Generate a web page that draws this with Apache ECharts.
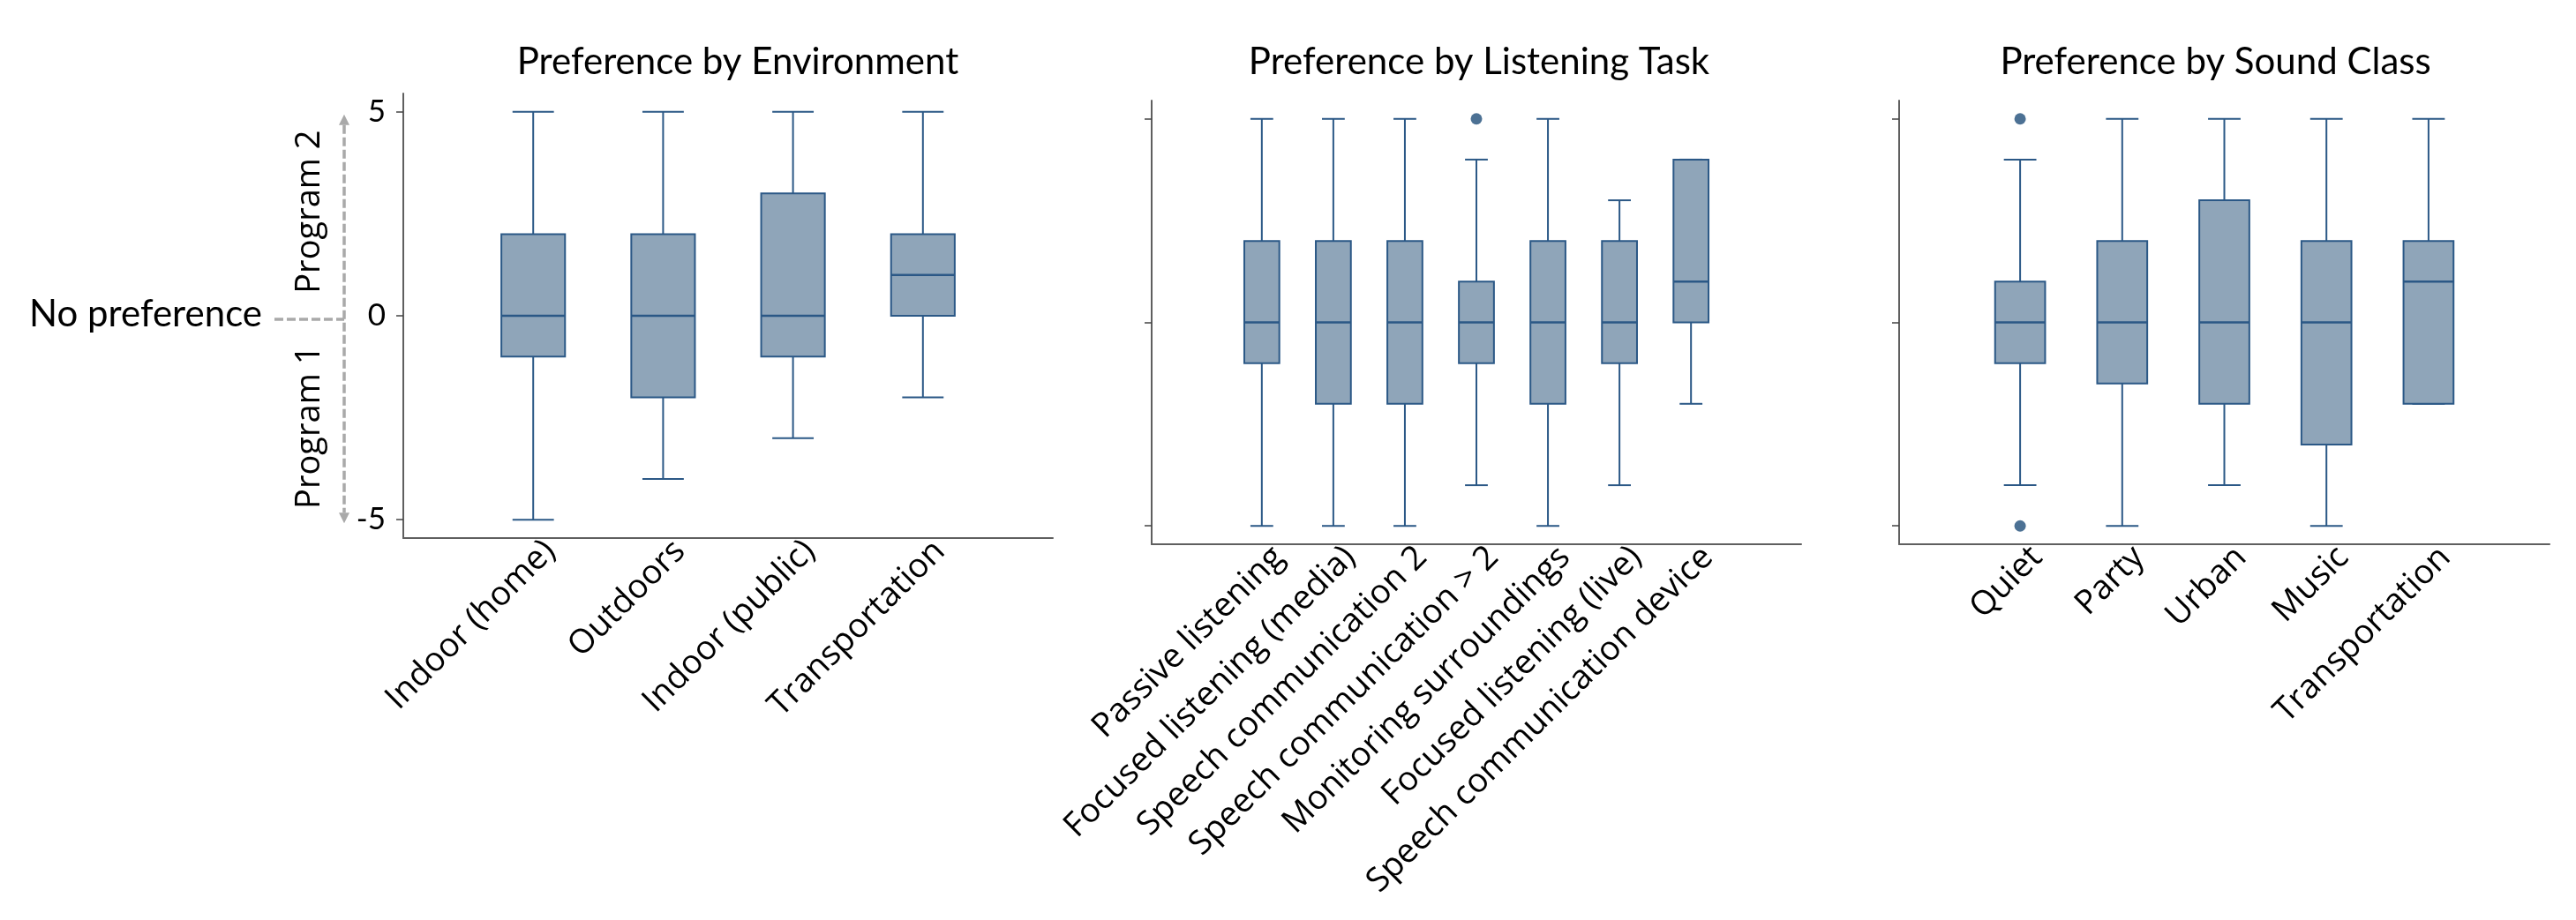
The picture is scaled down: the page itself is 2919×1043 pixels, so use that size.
<!DOCTYPE html>
<html>
<head>
<meta charset="utf-8">
<title>Program preference by environment, listening task and sound class</title>
<script src="https://cdn.jsdelivr.net/npm/echarts@6/dist/echarts.min.js"></script>
<style>
  html, body { margin: 0; padding: 0; background: #ffffff; }
  #chart { width: 2919px; height: 1043px; }
</style>
</head>
<body>
<div id="chart"></div>
<script>
// ---- data: five-number summaries [min, Q1, median, Q3, max] per category ----
const envCategories = ['Indoor (home)', 'Outdoors', 'Indoor (public)', 'Transportation'];
const envStats = [
  [-5, -1, 0, 2, 5],
  [-4, -2, 0, 2, 5],
  [-3, -1, 0, 3, 5],
  [-2, 0, 1, 2, 5]
];
const envOutliers = [];

const taskCategories = [
  'Passive listening',
  'Focused listening (media)',
  'Speech communication 2',
  'Speech communication > 2',
  'Monitoring surroundings',
  'Focused listening (live)',
  'Speech communication device'
];
const taskStats = [
  [-5, -1, 0, 2, 5],
  [-5, -2, 0, 2, 5],
  [-5, -2, 0, 2, 5],
  [-4, -1, 0, 1, 4],
  [-5, -2, 0, 2, 5],
  [-4, -1, 0, 2, 3],
  [-2, 0, 1, 4, 4]
];
// [category index, value]
const taskOutliers = [[3, 5]];

const soundCategories = ['Quiet', 'Party', 'Urban', 'Music', 'Transportation'];
const soundStats = [
  [-4, -1, 0, 1, 4],
  [-5, -1.5, 0, 2, 5],
  [-4, -2, 0, 3, 5],
  [-5, -3, 0, 2, 5],
  [-2, -2, 1, 2, 5]
];
const soundOutliers = [[0, 5], [0, -5]];

const panelTitles = ['Preference by Environment', 'Preference by Listening Task', 'Preference by Sound Class'];
const yTicks = [-5, 0, 5];

// ---- styling ----
const BOX_FILL = '#8fa5b9';
const BOX_STROKE = '#2b5886';
const DOT_COLOR = '#1f4e79';
const AXIS_COLOR = '#5f5f5f';
const GUIDE_COLOR = '#a9a9a9';
const TITLE_FONT = 'Lato';
const LABEL_FONT = 'Open Sans';

const panels = [
  { cats: envCategories, stats: envStats, outliers: envOutliers,
    grid: { left: 457, top: 106, width: 736, height: 504 }, pad: 1.0, showY: true, titleNudge: 6 },
  { cats: taskCategories, stats: taskStats, outliers: taskOutliers,
    grid: { left: 1305, top: 114, width: 736, height: 503 }, pad: 1.54, showY: false, titleNudge: -2 },
  { cats: soundCategories, stats: soundStats, outliers: soundOutliers,
    grid: { left: 2152, top: 114, width: 737, height: 503 }, pad: 1.185, showY: false, titleNudge: -15 }
];

const LABEL_SHIFT_PX = 19;   // horizontal nudge of the rotated category labels

function renderBox(params, api) {
  const x = api.value(0);
  const lo = api.value(1), q1 = api.value(2), med = api.value(3), q3 = api.value(4), hi = api.value(5);
  const band = api.size([1, 0])[0];
  const boxW = band * 0.49;
  const capW = boxW * 0.65;
  const pLo = api.coord([x, lo]);
  const pQ1 = api.coord([x, q1]);
  const pMed = api.coord([x, med]);
  const pQ3 = api.coord([x, q3]);
  const pHi = api.coord([x, hi]);
  const cx = pMed[0];
  const lineStyle = { stroke: BOX_STROKE, lineWidth: 2 };
  return {
    type: 'group',
    children: [
      { type: 'line', shape: { x1: cx, y1: pHi[1], x2: cx, y2: pQ3[1] }, style: lineStyle },
      { type: 'line', shape: { x1: cx, y1: pQ1[1], x2: cx, y2: pLo[1] }, style: lineStyle },
      { type: 'line', shape: { x1: cx - capW / 2, y1: pHi[1], x2: cx + capW / 2, y2: pHi[1] }, style: lineStyle },
      { type: 'line', shape: { x1: cx - capW / 2, y1: pLo[1], x2: cx + capW / 2, y2: pLo[1] }, style: lineStyle },
      { type: 'rect', shape: { x: cx - boxW / 2, y: pQ3[1], width: boxW, height: pQ1[1] - pQ3[1] },
        style: { fill: BOX_FILL, stroke: BOX_STROKE, lineWidth: 2 } },
      { type: 'line', shape: { x1: cx - boxW / 2, y1: pMed[1], x2: cx + boxW / 2, y2: pMed[1] },
        style: { stroke: BOX_STROKE, lineWidth: 2.5 } }
    ]
  };
}

const grids = [], xAxes = [], yAxes = [], series = [], titles = [];

panels.forEach((p, i) => {
  grids.push(Object.assign({ containLabel: false }, p.grid));
  const xMin = -p.pad, xMax = p.cats.length - 1 + p.pad;
  const band = p.grid.width / (xMax - xMin);
  const off = LABEL_SHIFT_PX / band;
  xAxes.push({
    type: 'value', gridIndex: i, min: xMin, max: xMax,
    splitLine: { show: false },
    axisTick: { show: false },
    axisLine: { show: true, onZero: false, lineStyle: { color: AXIS_COLOR, width: 2 } },
    axisLabel: {
      customValues: p.cats.map((_, k) => k + off),
      formatter: (v) => p.cats[Math.round(v - off)] || '',
      rotate: 45, margin: 9,
      color: '#000', fontFamily: LABEL_FONT, fontSize: 38
    }
  });
  yAxes.push({
    type: 'value', gridIndex: i, min: -5.45, max: 5.45,
    splitLine: { show: false },
    axisLine: { show: true, onZero: false, lineStyle: { color: AXIS_COLOR, width: 2 } },
    axisTick: { show: true, customValues: yTicks, length: 8, lineStyle: { color: '#444', width: 1.5 } },
    axisLabel: {
      show: p.showY, customValues: yTicks, margin: 20,
      color: '#000', fontFamily: TITLE_FONT, fontSize: 35
    }
  });
  series.push({
    type: 'custom', xAxisIndex: i, yAxisIndex: i,
    renderItem: renderBox,
    encode: { x: 0, y: [1, 2, 3, 4, 5] },
    data: p.stats.map((s, k) => [k].concat(s)),
    silent: true
  });
  series.push({
    type: 'scatter', xAxisIndex: i, yAxisIndex: i,
    symbol: 'circle', symbolSize: 13,
    itemStyle: { color: DOT_COLOR },
    data: p.outliers,
    silent: true
  });
  titles.push({
    text: panelTitles[i],
    left: p.grid.left + p.grid.width / 2 + p.titleNudge,
    top: 44,
    textAlign: 'center',
    textStyle: { fontFamily: TITLE_FONT, fontSize: 42, fontWeight: 'normal', color: '#000' }
  });
});

const chart = echarts.init(document.getElementById('chart'), null, { renderer: 'canvas' });
chart.setOption({
  backgroundColor: '#ffffff',
  animation: false,
  title: titles,
  grid: grids,
  xAxis: xAxes,
  yAxis: yAxes,
  series: series
});

// ---- preference guide on the left of the first panel ----
const yPix = (v) => chart.convertToPixel({ yAxisIndex: 0 }, v);
const axisX = chart.convertToPixel({ xAxisIndex: 0 }, -1);
const guideX = axisX - 67;
const topTip = yPix(5) + 3;
const botTip = yPix(-5) + 4;
const zeroY = yPix(0) + 4;
const head = 12;
const dash = { stroke: GUIDE_COLOR, lineWidth: 3.5, lineDash: [10, 4] };

chart.setOption({
  graphic: [
    { type: 'line', silent: true, shape: { x1: guideX, y1: topTip + head, x2: guideX, y2: botTip - head }, style: dash },
    { type: 'polygon', silent: true,
      shape: { points: [[guideX, topTip], [guideX - 6, topTip + head], [guideX + 6, topTip + head]] },
      style: { fill: GUIDE_COLOR } },
    { type: 'polygon', silent: true,
      shape: { points: [[guideX, botTip], [guideX - 6, botTip - head], [guideX + 6, botTip - head]] },
      style: { fill: GUIDE_COLOR } },
    { type: 'line', silent: true, shape: { x1: guideX - 79, y1: zeroY, x2: guideX, y2: zeroY }, style: dash },
    { type: 'text', silent: true, x: guideX - 93, y: zeroY - 6,
      style: { text: 'No preference', align: 'right', verticalAlign: 'middle',
               font: '42px ' + TITLE_FONT, fill: '#000' } },
    { type: 'text', silent: true, x: guideX - 39, y: yPix(2.55), rotation: Math.PI / 2,
      style: { text: 'Program 2', align: 'center', verticalAlign: 'middle',
               font: '38px "' + LABEL_FONT + '"', fill: '#000' } },
    { type: 'text', silent: true, x: guideX - 39, y: yPix(-2.73), rotation: Math.PI / 2,
      style: { text: 'Program 1', align: 'center', verticalAlign: 'middle',
               font: '38px "' + LABEL_FONT + '"', fill: '#000' } }
  ]
});
</script>
</body>
</html>
